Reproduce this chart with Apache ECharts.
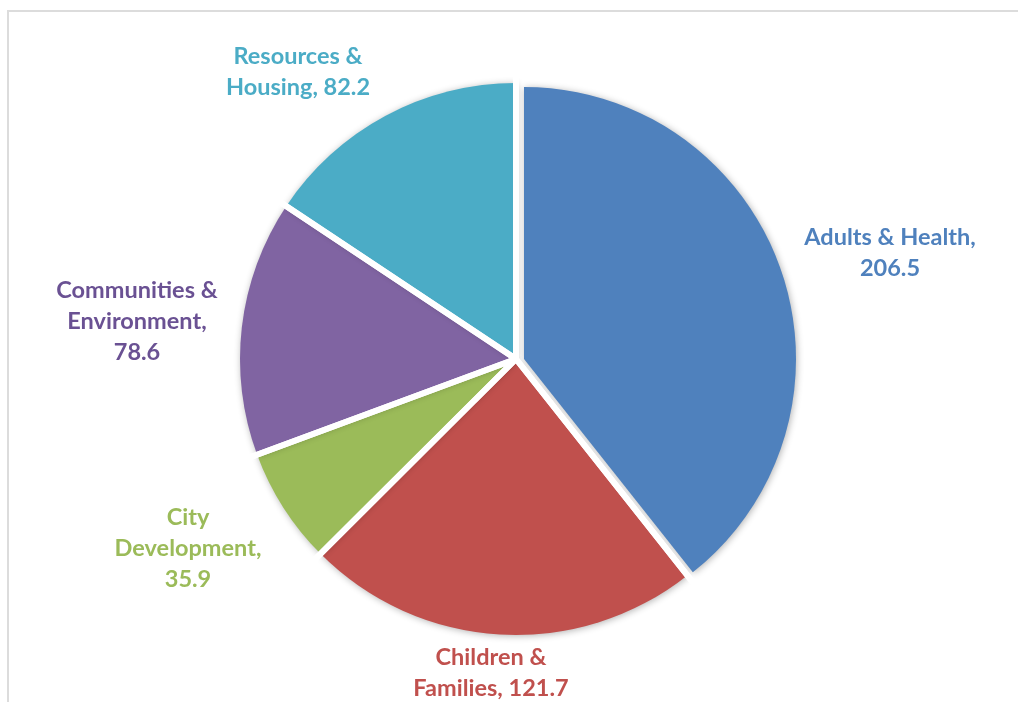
<!DOCTYPE html>
<html><head><meta charset="utf-8">
<script src="https://cdn.jsdelivr.net/npm/echarts@6/dist/echarts.min.js"></script>
<style>
html,body{margin:0;padding:0;background:#fff;overflow:hidden;}
#frame{position:absolute;left:7px;top:10px;width:1100px;height:800px;border-top:2px solid #dcdcdc;border-left:2px solid #dcdcdc;}
#chart{position:absolute;left:0;top:0;width:1018px;height:702px;}
</style></head><body>
<div id="frame"></div><div id="chart"></div>
<script>
// ---- data ----
const categories = ['Adults & Health', 'Children & Families', 'City Development', 'Communities & Environment', 'Resources & Housing'];
const values = [206.5, 121.7, 35.9, 78.6, 82.2];
const labelTexts = ['Adults & Health,\n', 'Children &\nFamilies, ', 'City\nDevelopment,\n', 'Communities &\nEnvironment,\n', 'Resources &\nHousing, '];

// ---- styles / layout ----
const sliceColors = ['#4F81BD', '#C0504D', '#9BBB59', '#8064A2', '#4BACC6'];
const labelColors = ['#4F81BD', '#C0504D', '#9BBB59', '#6A5193', '#4BACC6'];
const labelCenters = [[890, 253], [491, 673], [188, 548], [137, 321], [298, 72]];
const explodedIndex = 0;
const mainCenter = [516, 359];
const mainRadius = 276;
const explodedCenter = [524, 359];
const explodedRadius = 272;

const chart = echarts.init(document.getElementById('chart'), null, {renderer: 'canvas'});

function buildData(visibleFn, withLabel) {
  return categories.map((name, i) => {
    const vis = visibleFn(i);
    return {
      name, value: values[i],
      itemStyle: vis ? {
        color: sliceColors[i], borderWidth: 0,
        shadowBlur: 7, shadowColor: 'rgba(0,0,0,0.3)', shadowOffsetX: 1, shadowOffsetY: 1
      } : {color: 'rgba(0,0,0,0)', borderWidth: 0, shadowBlur: 0},
      label: {show: vis && withLabel, color: labelColors[i]},
      emphasis: {disabled: true}
    };
  });
}

const labelCommon = {
  position: 'outside',
  fontFamily: 'Lato',
  fontWeight: 'bold',
  fontSize: 23.5,
  lineHeight: 31,
  align: 'center',
  formatter: p => labelTexts[p.dataIndex] + values[p.dataIndex]
};
const layoutFn = params => {
  const c = labelCenters[params.dataIndex];
  return {x: c[0], y: c[1], align: 'center', verticalAlign: 'middle'};
};

chart.setOption({
  animation: false,
  backgroundColor: 'transparent',
  series: [
    {
      type: 'pie', center: mainCenter, radius: mainRadius, startAngle: 90, clockwise: true,
      avoidLabelOverlap: false, silent: true,
      label: labelCommon, labelLine: {show: false}, labelLayout: layoutFn,
      data: buildData(i => i !== explodedIndex, true)
    },
    {
      type: 'pie', center: explodedCenter, radius: explodedRadius, startAngle: 90, clockwise: true,
      avoidLabelOverlap: false, silent: true,
      label: labelCommon, labelLine: {show: false}, labelLayout: layoutFn,
      data: buildData(i => i === explodedIndex, true)
    },
    {
      // white separators between slices (radial edges only; outer arc lies outside the shadow)
      type: 'pie', center: mainCenter, radius: mainRadius + 16, startAngle: 90, clockwise: true,
      silent: true, label: {show: false}, labelLine: {show: false},
      itemStyle: {color: 'rgba(0,0,0,0)', borderColor: '#ffffff', borderWidth: 6},
      data: categories.map((name, i) => ({name, value: values[i]}))
    }
  ]
});
</script>
</body></html>
